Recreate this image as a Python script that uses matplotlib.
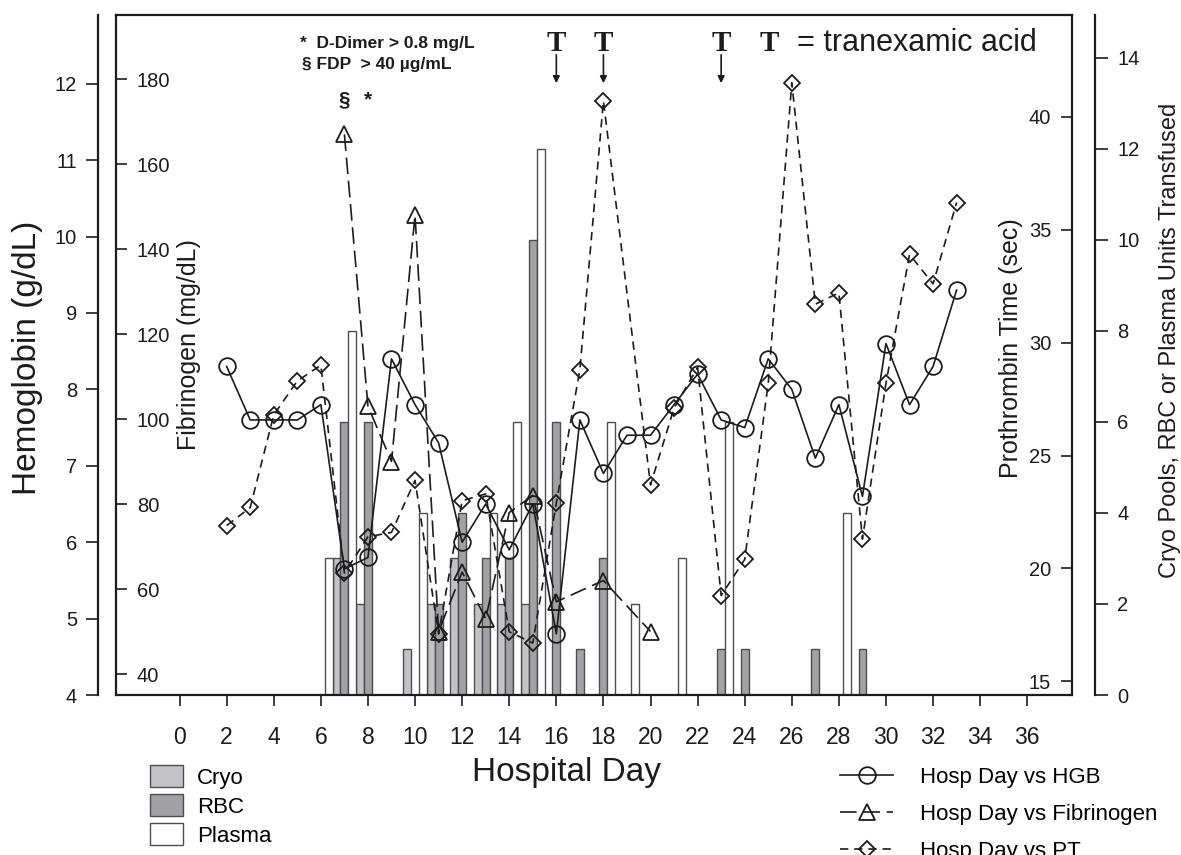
import numpy as np
import matplotlib.pyplot as plt
from matplotlib.lines import Line2D

plt.rcParams['font.family'] = ['Liberation Sans', 'DejaVu Sans']

# lab values by hospital day
hgb_days = list(range(2, 34))
hgb = [8.3, 7.6, 7.6, 7.6, 7.8, 5.65, 5.8, 8.4, 7.8, 7.3, 6.0, 6.5, 5.9, 6.5, 4.8, 7.6,
       6.9, 7.4, 7.4, 7.8, 8.2, 7.6, 7.5, 8.4, 8.0, 7.1, 7.8, 6.6, 8.6, 7.8, 8.3, 9.3]
fib_days = [7, 8, 9, 10, 11, 12, 13, 14, 15, 16, 18, 20]
fib = [167, 103, 90, 148, 50, 64, 53, 78, 82, 57, 62, 50]
pt_days = list(range(2, 19)) + list(range(20, 34))
pt = [21.9, 22.7, 26.8, 28.3, 29.0, 19.8, 21.4, 21.6, 23.9, 17.1, 23.0, 23.3, 17.2, 16.7,
      22.9, 28.8, 40.7, 23.7, 27.1, 28.9, 18.8, 20.4, 28.2, 41.5, 31.7, 32.2, 21.3, 28.2,
      33.9, 32.6, 36.2]

# units transfused
cryo_days = [7, 8, 10, 11, 12, 13, 14, 15]
cryo = [3, 2, 1, 2, 3, 2, 2, 2]
rbc_days = [7, 8, 11, 12, 13, 14, 15, 16, 17, 18, 23, 24, 27, 29]
rbc = [6, 6, 2, 4, 3, 3, 10, 6, 1, 3, 1, 1, 1, 1]
plasma_days = [6, 7, 10, 13, 14, 15, 18, 19, 21, 23, 28]
plasma = [3, 8, 4, 4, 6, 12, 6, 2, 3, 6, 4]

txa_days = [16, 18, 23]
fdp_days = [7]
dimer_days = [8]

W, H = 1181, 855
L, R, T, B = 116, 1072, 15, 695
fx = lambda px: px / W
fy = lambda py: 1 - py / H

fig = plt.figure(figsize=(W / 100, H / 100), dpi=100)
rect = [fx(L), fy(B), (R - L) / W, (B - T) / H]
ink = '#1c1c1c'
tsize = 14.5

# bars (cryo / rbc / plasma) on the far right axis
axb = fig.add_axes(rect)
bw = 1 / 3
b1 = axb.bar(np.array(cryo_days) - bw, cryo, width=bw, color='#c3c3c7', edgecolor='#4d4d4d', lw=1)
b2 = axb.bar(np.array(rbc_days), rbc, width=bw, color='#a2a2a6', edgecolor='#4d4d4d', lw=1)
b3 = axb.bar(np.array(plasma_days) + bw, plasma, width=bw, color='white', edgecolor='#4d4d4d', lw=1)
axb.set_xlim(-2.7, 37.9)
axb.set_ylim(0, 14.94)
axb.set_xticks(range(0, 37, 2))
axb.tick_params(axis='x', direction='out', length=8, width=1.2, pad=14, labelsize=16.5, colors=ink)

# fibrinogen, inside left
axf = axb.twinx()
# prothrombin time, inside right
axp = axb.twinx()
# hemoglobin, outer left
axh = axb.twinx()

axb.yaxis.tick_right()
axb.set_yticks(range(0, 15, 2))
axb.tick_params(axis='y', which='both', left=False, labelleft=False, right=True, labelright=True,
                direction='out', length=9, width=1.2, pad=7, labelsize=tsize, colors=ink)
axb.spines['right'].set_position(('axes', (1095 - L) / (R - L)))
axb.spines['left'].set_visible(False)
for s in axb.spines.values():
    s.set_linewidth(1.6)
    s.set_color(ink)

axf.yaxis.tick_left()
axf.set_ylim(35.06, 195.06)
axf.set_yticks(range(40, 181, 20))
axf.tick_params(axis='y', direction='in', length=8, width=1.2, pad=-15, labelsize=tsize, colors=ink)
for lab in axf.get_yticklabels():
    lab.set_horizontalalignment('left')
for k, s in axf.spines.items():
    s.set_visible(k == 'left')
    s.set_linewidth(1.6)
    s.set_color(ink)

axp.yaxis.tick_right()
axp.set_ylim(14.4, 44.5)
axp.set_yticks(range(15, 41, 5))
axp.tick_params(axis='y', direction='in', length=8, width=1.2, pad=-15, labelsize=tsize, colors=ink)
for lab in axp.get_yticklabels():
    lab.set_horizontalalignment('right')
for k, s in axp.spines.items():
    s.set_visible(k == 'right')
    s.set_linewidth(1.6)
    s.set_color(ink)

axh.yaxis.tick_left()
axh.set_ylim(4, 12.9)
axh.set_yticks(range(4, 13))
axh.tick_params(axis='y', direction='out', length=9, width=1.2, pad=6, labelsize=tsize, colors=ink)
axh.spines['left'].set_position(('axes', (98 - L) / (R - L)))
for k, s in axh.spines.items():
    s.set_visible(k == 'left')
    s.set_linewidth(1.6)
    s.set_color(ink)

l_fib, = axf.plot(fib_days, fib, color=ink, lw=1.2, ls=(0, (10, 4)), marker='^', ms=12,
                  mfc='none', mec=ink, mew=1.3)
l_pt, = axp.plot(pt_days, pt, color=ink, lw=1.2, ls=(0, (5, 3.5)), marker='D', ms=8.5,
                 mfc='none', mec=ink, mew=1.3)
l_hgb, = axh.plot(hgb_days, hgb, color=ink, lw=1.2, ls='-', marker='o', ms=12,
                  mfc='none', mec=ink, mew=1.3)

# tranexamic acid markers
xt = axb.get_xaxis_transform()
for d in txa_days:
    axb.text(d, (B - 51) / (B - T), 'T', transform=xt, ha='center', va='baseline',
             family='Liberation Serif', weight='bold', fontsize=21, color=ink)
    axb.annotate('', xy=(d, (B - 86) / (B - T)), xytext=(d, (B - 52) / (B - T)), xycoords=xt,
                 arrowprops=dict(arrowstyle='-|>', lw=1.2, color=ink, mutation_scale=10))
for d in fdp_days:
    axb.text(d, (B - 100) / (B - T), '§', transform=xt, ha='center', va='center',
             weight='bold', fontsize=15, color=ink)
for d in dimer_days:
    axb.text(d, (B - 100) / (B - T), '*', transform=xt, ha='center', va='center',
             weight='bold', fontsize=15, color=ink)

fig.text(fx(760), fy(51), 'T', family='Liberation Serif', weight='bold', fontsize=21, color=ink)
fig.text(fx(797), fy(51), '= tranexamic acid', fontsize=22, color=ink)
fig.text(fx(300), fy(48), '*  D-Dimer > 0.8 mg/L', weight='bold', fontsize=12.5, color=ink)
fig.text(fx(302), fy(69), '§ FDP  > 40 µg/mL', weight='bold', fontsize=12.5, color=ink)

# axis titles
fig.text(fx(28), fy(358), 'Hemoglobin (g/dL)', rotation=90, ha='center', va='center', fontsize=24, color=ink)
fig.text(fx(189), fy(345), 'Fibrinogen (mg/dL)', rotation=90, ha='center', va='center', fontsize=18, color=ink)
fig.text(fx(1011), fy(348), 'Prothrombin Time (sec)', rotation=90, ha='center', va='center', fontsize=18, color=ink)
fig.text(fx(1170), fy(340), 'Cryo Pools, RBC or Plasma Units Transfused', rotation=90,
         ha='center', va='center', fontsize=17, color=ink)
fig.text(fx(567), fy(772), 'Hospital Day', ha='center', va='center', fontsize=24, color=ink)

# legends
fig.legend([b1, b2, b3], ['Cryo', 'RBC', 'Plasma'], loc='upper left',
           bbox_to_anchor=(fx(150), fy(765)), frameon=False, fontsize=16,
           handlelength=1.5, handleheight=1.15, labelspacing=0.25, handletextpad=0.6,
           borderaxespad=0, borderpad=0)
h1 = Line2D([], [], color=ink, lw=1.2, marker='o', ms=12, mfc='none', mec=ink, mew=1.3)
h2 = Line2D([], [], color=ink, lw=1.2, ls=(0, (10, 4)), marker='^', ms=12, mfc='none', mec=ink, mew=1.3)
h3 = Line2D([], [], color=ink, lw=1.2, ls=(0, (5, 3.5)), marker='D', ms=8.5, mfc='none', mec=ink, mew=1.3)
fig.legend([h1, h2, h3], ['Hosp Day vs HGB', 'Hosp Day vs Fibrinogen', 'Hosp Day vs PT'],
           loc='upper left', bbox_to_anchor=(fx(840), fy(767)), frameon=False, fontsize=16,
           handlelength=2.4, labelspacing=0.72, handletextpad=1.2, borderaxespad=0, borderpad=0)

fig.savefig('out.png', dpi=100)
